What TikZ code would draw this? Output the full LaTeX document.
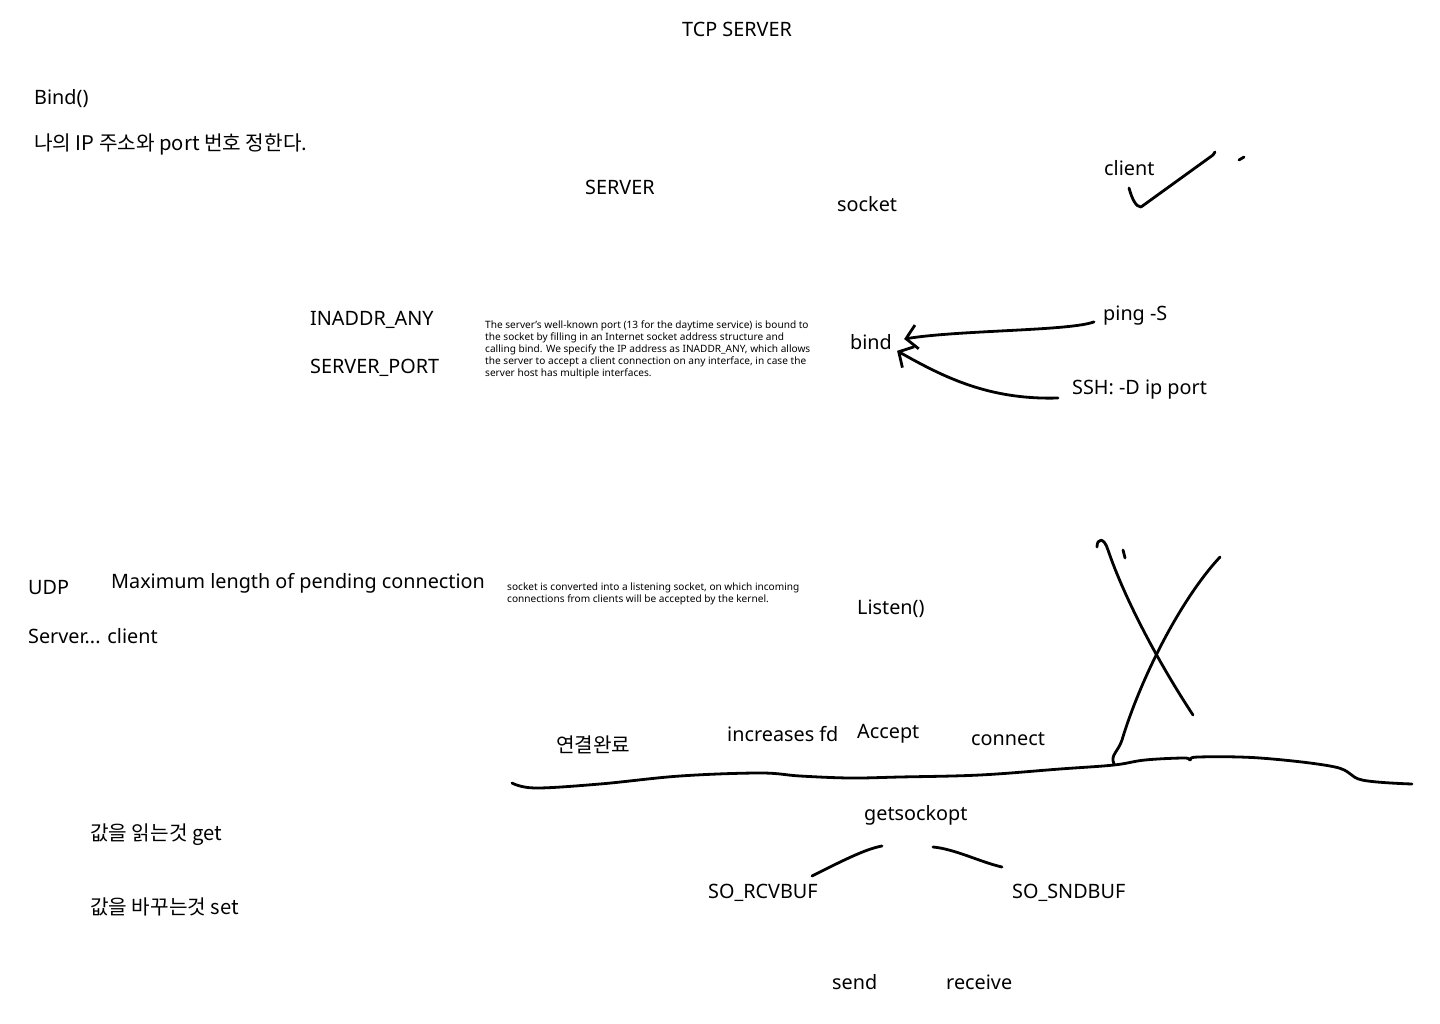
\documentclass[tikz,border=0pt]{standalone}
\usepackage{fontspec}
\setmainfont{Noto Sans}
\newfontfamily\krfont{Noto Sans CJK KR}
\usetikzlibrary{arrows.meta}

\begin{document}
\begin{tikzpicture}[
    x=1pt, y=-1pt,
    every node/.style={inner sep=0pt, anchor=west},
    lbl/.style={font=\fontsize{19.8}{23}\selectfont},
    krlbl/.style={font=\krfont\fontsize{20.2}{23}\selectfont},
    note/.style={anchor=north west, align=left, font=\fontsize{10.1}{12}\selectfont},
    ink/.style={line width=2.8pt, line cap=round, line join=round},
    inkarrow/.style={ink, -{Straight Barb[length=11pt, width=24pt, line width=2.8pt]}}
]
\useasboundingbox (0,0) rectangle (1440,1024);
\fill[white] (0,0) rectangle (1440,1024);

% top notes
\node[lbl] (title) at (682,29) {TCP SERVER};
\node[lbl] (bindfn) at (34,99) {Bind()};
\node[krlbl] (bindnote) at (34,144) {나의 IP 주소와 port 번호 정한다.};
\node[lbl] (server) at (585,187) {SERVER};
\node[lbl] (socket) at (837,204) {socket};
\node[lbl] (client) at (1104,168) {client};

% bind step
\node[lbl] (inaddr) at (310,320) {INADDR\_ANY};
\node[lbl] (srvport) at (310,368) {SERVER\_PORT};
\node[note] (bindtext) at (485,321) {The server's well-known port (13 for the daytime service) is bound to\\
the socket by filling in an Internet socket address structure and\\
calling bind. We specify the IP address as INADDR\_ANY, which allows\\
the server to accept a client connection on any interface, in case the\\
server host has multiple interfaces.};
\node[lbl] (bind) at (850,342) {bind};
\node[lbl] (ping) at (1103,316) {ping -S};
\node[lbl] (ssh) at (1072,390) {SSH: -D ip port};

% listen step
\node[lbl] (udp) at (28,588) {UDP};
\node[lbl] (maxlen) at (111,583) {Maximum length of pending connection};
\node[lbl] (srvclient) at (28,636) {Server... client};
\node[note] (listentext) at (507,583) {socket is converted into a listening socket, on which incoming\\
connections from clients will be accepted by the kernel.};
\node[lbl] (listen) at (857,609) {Listen()};

% accept step
\node[krlbl] (done) at (556,745) {연결완료};
\node[lbl] (incfd) at (727,734) {increases fd};
\node[lbl] (accept) at (857,734) {Accept};
\node[lbl] (connect) at (971,739) {connect};

% socket options
\node[lbl] (getsock) at (864,815) {getsockopt};
\node[lbl] (rcvbuf) at (708,893) {SO\_RCVBUF};
\node[lbl] (sndbuf) at (1012,893) {SO\_SNDBUF};
\node[krlbl] (getnote) at (90,835) {값을 읽는것 get};
\node[krlbl] (setnote) at (90,907) {값을 바꾸는것 set};
\node[lbl] (send) at (832,982) {send};
\node[lbl] (receive) at (946,982) {receive};

% arrows into bind
\draw[inkarrow] ([xshift=-9pt,yshift=4pt]ping.south west) .. controls (1070,331) and (960,330) .. ([xshift=12pt,yshift=3pt]bind.east);
\draw[inkarrow] ([xshift=-14pt,yshift=-8pt]ssh.west) .. controls (990,400) and (945,378) .. ([xshift=5pt,yshift=-1pt]bind.south east);

% check mark
\draw[ink] (1129,188) .. controls (1132,199) and (1136,207) .. (1141,207) -- (1213,155) -- (1215,152);
\draw[ink] (1239,160) -- (1244,157);

% cross
\draw[ink] (1097,547) .. controls (1097,538) and (1104,537) .. (1108,550)
    .. controls (1125,600) and (1160,665) .. (1193,715);
\draw[ink] (1220,557) .. controls (1180,600) and (1140,680) .. (1122,740)
    .. controls (1118,752) and (1110,755) .. (1114,764);
\draw[ink] (1123,550) -- (1125,558);

% wavy line
\draw[ink] plot[smooth, tension=0.6] coordinates {(512,783) (535,788) (600,784) (680,776) (760,773) (800,776) (850,778) (900,777) (980,775) (1060,769) (1114,765) (1145,760) (1184,758) (1190,760) (1198,757) (1260,758) (1335,767) (1362,780) (1412,784)};

% getsockopt strokes
\draw[ink] (812,876) .. controls (840,862) and (865,849) .. (882,846);
\draw[ink] (933,847) .. controls (955,849) and (980,862) .. (1002,867);
\end{tikzpicture}
\end{document}
